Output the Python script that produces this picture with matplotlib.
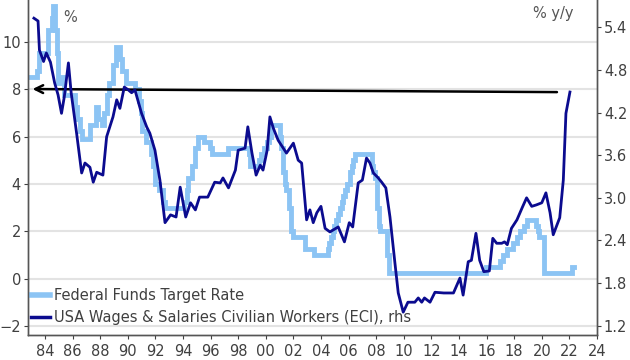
import matplotlib
matplotlib.use("Agg")
import matplotlib.pyplot as plt
import numpy as np

# Federal funds target rate, % (left axis), step changes as decimal years
fed_years = [1983.0, 1983.4, 1983.6, 1984.25, 1984.5, 1984.6, 1984.75, 1984.85, 1984.95,
             1985.2, 1985.4, 1986.2, 1986.3, 1986.55, 1986.65, 1987.3, 1987.7, 1987.85,
             1988.1, 1988.3, 1988.5, 1988.65, 1988.95, 1989.15, 1989.45, 1989.6, 1989.85,
             1990.55, 1990.85, 1990.95, 1991.05, 1991.35, 1991.7, 1991.85, 1991.95,
             1992.3, 1992.55, 1992.7, 1994.1, 1994.3, 1994.4, 1994.65, 1994.9, 1995.1,
             1995.5, 1995.95, 1996.1, 1997.25, 1998.75, 1998.85, 1999.5, 1999.65, 1999.9,
             2000.1, 2000.25, 2000.4, 2001.0, 2001.1, 2001.25, 2001.4, 2001.5, 2001.7,
             2001.85, 2001.95, 2002.85, 2003.5, 2004.5, 2004.6, 2004.7, 2004.85, 2004.95,
             2005.1, 2005.25, 2005.35, 2005.5, 2005.6, 2005.75, 2005.9, 2006.1, 2006.25,
             2006.35, 2006.5, 2007.7, 2007.8, 2007.95, 2008.05, 2008.2, 2008.3, 2008.75,
             2008.95, 2015.95, 2016.95, 2017.2, 2017.45, 2017.95, 2018.2, 2018.45, 2018.7,
             2018.95, 2019.55, 2019.7, 2019.8, 2020.17, 2022.2, 2022.35]
fed_rate = [8.5, 8.75, 9.5, 10.5, 11.0, 11.5, 10.5, 9.5, 8.25,
            8.5, 7.75, 7.25, 6.75, 6.25, 5.875, 6.5, 7.25, 6.75,
            6.5, 7.0, 7.75, 8.25, 9.0, 9.75, 9.25, 8.75, 8.25,
            8.0, 7.5, 7.0, 6.25, 5.75, 5.25, 4.75, 4.0,
            3.75, 3.25, 3.0, 3.25, 3.75, 4.25, 4.75, 5.5, 6.0,
            5.75, 5.5, 5.25, 5.5, 5.25, 4.75, 5.0, 5.25, 5.5,
            5.75, 6.0, 6.5, 6.0, 5.5, 4.5, 4.0, 3.75, 3.0,
            2.0, 1.75, 1.25, 1.0, 1.25, 1.5, 1.75, 2.0, 2.25,
            2.5, 2.75, 3.0, 3.25, 3.5, 3.75, 4.0, 4.5, 4.75,
            5.0, 5.25, 4.75, 4.5, 4.25, 3.0, 2.25, 2.0, 1.0,
            0.25, 0.5, 0.75, 1.0, 1.25, 1.5, 1.75, 2.0, 2.25,
            2.5, 2.25, 2.0, 1.75, 0.25, 0.5, 0.5]

# ECI wages & salaries, civilian workers, % y/y (right axis)
eci_years = [1983.2, 1983.5, 1983.6, 1983.9, 1984.1, 1984.4, 1984.7, 1984.95, 1985.2,
             1985.4, 1985.7, 1985.9, 1986.3, 1986.66, 1986.9, 1987.26, 1987.5, 1987.75,
             1988.2, 1988.47, 1988.93, 1989.2, 1989.43, 1989.75, 1990.04, 1990.28,
             1990.52, 1991.0, 1991.37, 1991.6, 1991.97, 1992.33, 1992.7, 1993.1, 1993.5,
             1993.8, 1994.2, 1994.55, 1994.9, 1995.2, 1995.8, 1996.3, 1996.7, 1996.9,
             1997.3, 1997.8, 1998.0, 1998.5, 1998.7, 1999.0, 1999.3, 1999.6, 1999.8,
             2000.1, 2000.3, 2000.55, 2000.9, 2001.5, 2002.0, 2002.35, 2002.6, 2002.96,
             2003.2, 2003.44, 2003.7, 2004.0, 2004.3, 2004.65, 2005.25, 2005.7, 2006.05,
             2006.3, 2006.7, 2007.0, 2007.3, 2007.55, 2007.8, 2008.15, 2008.4, 2008.7,
             2009.0, 2009.36, 2009.6, 2009.96, 2010.3, 2010.8, 2011.05, 2011.3, 2011.5,
             2011.9, 2012.26, 2012.9, 2013.6, 2014.07, 2014.3, 2014.67, 2014.9, 2015.23,
             2015.5, 2015.8, 2016.2, 2016.45, 2016.73, 2017.1, 2017.3, 2017.5, 2017.8,
             2018.2, 2018.6, 2018.9, 2019.27, 2019.6, 2020.0, 2020.3, 2020.6, 2020.83,
             2021.3, 2021.56, 2021.75, 2022.04]
eci_yoy = [5.53, 5.49, 5.08, 4.92, 5.04, 4.91, 4.62, 4.45, 4.19,
           4.42, 4.90, 4.48, 3.9, 3.35, 3.49, 3.43, 3.22, 3.36,
           3.32, 3.86, 4.14, 4.38, 4.26, 4.56, 4.52, 4.48,
           4.52, 4.19, 4.0, 3.91, 3.67, 3.25, 2.65, 2.76, 2.73,
           3.15, 2.73, 2.93, 2.83, 3.01, 3.01, 3.22, 3.21, 3.28,
           3.14, 3.39, 3.67, 3.70, 4.0, 3.63, 3.32, 3.46, 3.39,
           3.67, 4.14, 3.98, 3.81, 3.63, 3.77, 3.53, 3.49, 2.69,
           2.83, 2.65, 2.79, 2.88, 2.57, 2.52, 2.59, 2.38, 2.65,
           2.59, 3.21, 3.25, 3.56, 3.49, 3.35, 3.28, 3.22, 3.14,
           2.73, 2.08, 1.66, 1.39, 1.53, 1.53, 1.59, 1.53, 1.59,
           1.53, 1.67, 1.66, 1.66, 1.87, 1.63, 2.10, 2.12, 2.50,
           2.12, 1.96, 1.97, 2.43, 2.36, 2.36, 2.38, 2.34, 2.57,
           2.69, 2.87, 3.0, 2.88, 2.90, 2.93, 3.07, 2.79, 2.48,
           2.72, 3.25, 4.19, 4.49]

x_ticks = list(range(1984, 2025, 2))
x_labels = ["%02d" % (y % 100) for y in x_ticks]
left_ticks = [-2, 0, 2, 4, 6, 8, 10]
right_ticks = [1.2, 1.8, 2.4, 3.0, 3.6, 4.2, 4.8, 5.4]

light = "#8cc4f4"
dark = "#0b0b8f"
txt = "#404040"

fig = plt.figure(figsize=(6.3, 3.6), dpi=100)
ax = fig.add_axes([0.0444, 0.0694, 0.9032, 0.9306])
ax2 = ax.twinx()

ax.set_xlim(1982.77, 2024.0)
ax.set_ylim(-2.36, 11.75)
ax2.set_ylim(1.068, 5.786)

for v in left_ticks:
    ax.axhline(v, color="#e3e3e3", lw=1.5, zorder=0)

l1, = ax.plot(fed_years, fed_rate, color=light, lw=3.5, drawstyle="steps-post",
              solid_joinstyle="miter", zorder=2)
l2, = ax2.plot(eci_years, eci_yoy, color=dark, lw=2.0, zorder=3)

ax.annotate("", xy=(1982.9, 8.0), xytext=(2021.3, 7.87),
            arrowprops=dict(arrowstyle="->", color="black", lw=1.8,
                            mutation_scale=14), zorder=5)

ax.set_xticks(x_ticks)
ax.set_xticklabels(x_labels)
ax.set_yticks(left_ticks)
ax2.set_yticks(right_ticks)
ax2.set_yticklabels(["%.1f" % v for v in right_ticks])

for a in (ax, ax2):
    a.tick_params(labelsize=10.5, colors=txt, length=3, width=0.8)
    a.spines["top"].set_visible(False)
    for s in ("left", "right", "bottom"):
        a.spines[s].set_color("#555555")
        a.spines[s].set_linewidth(1.0)
ax.tick_params(axis="y", pad=2)
ax2.tick_params(axis="y", pad=2)

ax.text(1985.3, 11.0, "%", color="#555555", fontsize=10.5, va="center")
ax2.text(2022.3, 5.59, "% y/y", color="#555555", fontsize=10.5, ha="right", va="center")

leg = ax.legend([l1, l2], ["Federal Funds Target Rate",
                           "USA Wages & Salaries Civilian Workers (ECI), rhs"],
                loc="lower left", bbox_to_anchor=(0.005, 0.03), frameon=False,
                fontsize=10.5, handlelength=1.3, handletextpad=0.3,
                labelspacing=0.5, borderaxespad=0, borderpad=0, labelcolor=txt)
leg.legend_handles[0].set_linewidth(4)
leg.legend_handles[1].set_linewidth(2.5)

fig.savefig("out.png", dpi=100)
